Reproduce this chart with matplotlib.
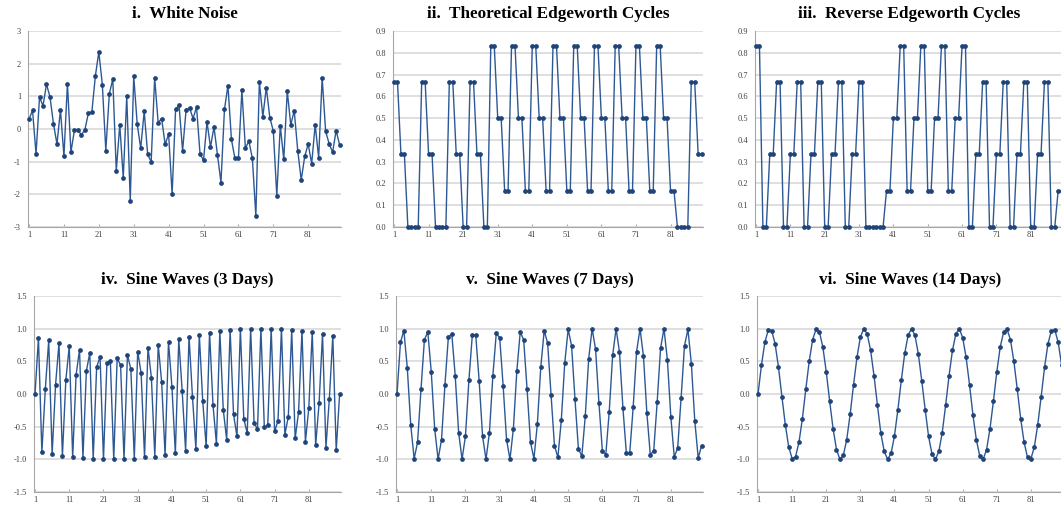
import numpy as np
import matplotlib
matplotlib.use('Agg')
import matplotlib.pyplot as plt
from matplotlib.ticker import FormatStrFormatter

plt.rcParams['font.family'] = ['Liberation Serif', 'DejaVu Serif']
plt.rcParams['axes.unicode_minus'] = False

# Series values (90 days each)
white_noise = [0.30, 0.57, -0.76, 0.97, 0.71, 1.37, 0.98, 0.16, -0.46, 0.58,
               -0.83, 1.39, -0.71, -0.04, -0.03, -0.18, -0.02, 0.48, 0.52, 1.62,
               2.36, 1.36, -0.66, 1.07, 1.53, -1.28, 0.13, -1.50, 1.00, -2.20,
               1.62, 0.15, -0.59, 0.54, -0.78, -1.00, 1.57, 0.19, 0.32, -0.47,
               -0.16, -1.99, 0.61, 0.72, -0.67, 0.58, 0.65, 0.32, 0.67, -0.76,
               -0.96, 0.21, -0.55, 0.06, -0.79, -1.64, 0.60, 1.33, -0.32, -0.90,
               -0.90, 1.18, -0.59, -0.37, -0.90, -2.67, 1.44, 0.38, 1.27, 0.35,
               -0.06, -2.04, 0.10, -0.93, 1.16, 0.13, 0.56, -0.66, -1.56, -0.84,
               -0.46, -1.06, 0.13, -0.88, 1.57, -0.07, -0.45, -0.71, -0.05, -0.48]

edgeworth = [0.667, 0.667, 0.333, 0.333, 0, 0, 0, 0, 0.667, 0.667,
             0.333, 0.333, 0, 0, 0, 0, 0.667, 0.667, 0.333, 0.333,
             0, 0, 0.667, 0.667, 0.333, 0.333, 0, 0, 0.833, 0.833,
             0.5, 0.5, 0.167, 0.167, 0.833, 0.833, 0.5, 0.5, 0.167, 0.167,
             0.833, 0.833, 0.5, 0.5, 0.167, 0.167, 0.833, 0.833, 0.5, 0.5,
             0.167, 0.167, 0.833, 0.833, 0.5, 0.5, 0.167, 0.167, 0.833, 0.833,
             0.5, 0.5, 0.167, 0.167, 0.833, 0.833, 0.5, 0.5, 0.167, 0.167,
             0.833, 0.833, 0.5, 0.5, 0.167, 0.167, 0.833, 0.833, 0.5, 0.5,
             0.167, 0.167, 0, 0, 0, 0, 0.667, 0.667, 0.333, 0.333]

reverse_edgeworth = [0.833, 0.833, 0, 0, 0.333, 0.333, 0.667, 0.667, 0, 0,
                     0.333, 0.333, 0.667, 0.667, 0, 0, 0.333, 0.333, 0.667, 0.667,
                     0, 0, 0.333, 0.333, 0.667, 0.667, 0, 0, 0.333, 0.333,
                     0.667, 0.667, 0, 0, 0, 0, 0, 0, 0.167, 0.167,
                     0.5, 0.5, 0.833, 0.833, 0.167, 0.167, 0.5, 0.5, 0.833, 0.833,
                     0.167, 0.167, 0.5, 0.5, 0.833, 0.833, 0.167, 0.167, 0.5, 0.5,
                     0.833, 0.833, 0, 0, 0.333, 0.333, 0.667, 0.667, 0, 0,
                     0.333, 0.333, 0.667, 0.667, 0, 0, 0.333, 0.333, 0.667, 0.667,
                     0, 0, 0.333, 0.333, 0.667, 0.667, 0, 0, 0.167, 0.167]

sine_3 = [0.00, 0.86, -0.89, 0.07, 0.82, -0.92, 0.14, 0.78, -0.95, 0.21,
          0.73, -0.97, 0.29, 0.68, -0.98, 0.35, 0.63, -0.99, 0.41, 0.57,
          -1.00, 0.47, 0.51, -1.00, 0.55, 0.44, -1.00, 0.60, 0.38, -0.99,
          0.65, 0.32, -0.97, 0.71, 0.25, -0.96, 0.75, 0.18, -0.94, 0.80,
          0.11, -0.91, 0.84, 0.04, -0.87, 0.88, -0.04, -0.84, 0.91, -0.11,
          -0.80, 0.94, -0.17, -0.76, 0.96, -0.24, -0.70, 0.98, -0.31, -0.65,
          0.99, -0.38, -0.60, 1.00, -0.44, -0.54, 1.00, -0.51, -0.48, 1.00,
          -0.57, -0.41, 1.00, -0.62, -0.35, 0.98, -0.68, -0.28, 0.97, -0.73,
          -0.21, 0.95, -0.78, -0.14, 0.92, -0.82, -0.07, 0.89, -0.86, 0.00]

sine_7 = [0.00, 0.79, 0.97, 0.40, -0.47, -0.99, -0.74, 0.07, 0.83, 0.95,
          0.34, -0.53, -1.00, -0.70, 0.14, 0.87, 0.92, 0.28, -0.59, -1.00,
          -0.64, 0.21, 0.90, 0.90, 0.20, -0.65, -1.00, -0.59, 0.28, 0.93,
          0.86, 0.13, -0.70, -1.00, -0.53, 0.35, 0.95, 0.83, 0.07, -0.74,
          -0.99, -0.46, 0.41, 0.97, 0.78, -0.01, -0.79, -0.97, -0.40, 0.47,
          0.99, 0.74, -0.08, -0.84, -0.95, -0.34, 0.54, 1.00, 0.69, -0.14,
          -0.87, -0.93, -0.27, 0.59, 1.00, 0.64, -0.21, -0.90, -0.90, -0.20,
          0.65, 1.00, 0.58, -0.29, -0.93, -0.87, -0.13, 0.70, 1.00, 0.52,
          -0.35, -0.96, -0.83, -0.06, 0.74, 0.99, 0.46, -0.41, -0.98, -0.79]

sine_14 = [0.00, 0.44, 0.79, 0.98, 0.97, 0.77, 0.41, -0.04, -0.47, -0.81,
           -0.99, -0.96, -0.74, -0.38, 0.07, 0.50, 0.83, 0.99, 0.95, 0.72,
           0.34, -0.11, -0.53, -0.85, -1.00, -0.94, -0.70, -0.31, 0.14, 0.56,
           0.87, 1.00, 0.92, 0.67, 0.28, -0.17, -0.60, -0.88, -1.00, -0.91,
           -0.64, -0.24, 0.21, 0.62, 0.90, 1.00, 0.90, 0.61, 0.20, -0.24,
           -0.65, -0.92, -1.00, -0.88, -0.59, -0.17, 0.28, 0.67, 0.92, 1.00,
           0.86, 0.56, 0.14, -0.32, -0.70, -0.95, -1.00, -0.85, -0.53, -0.11,
           0.34, 0.72, 0.95, 0.99, 0.83, 0.50, 0.07, -0.38, -0.74, -0.97,
           -0.99, -0.81, -0.47, -0.04, 0.41, 0.77, 0.97, 0.98, 0.79, 0.44]

titles = ['i.  White Noise', 'ii.  Theoretical Edgeworth Cycles',
          'iii.  Reverse Edgeworth Cycles', 'iv.  Sine Waves (3 Days)',
          'v.  Sine Waves (7 Days)', 'vi.  Sine Waves (14 Days)']
x_ticks = [1, 11, 21, 31, 41, 51, 61, 71, 81]

series = [white_noise, edgeworth, reverse_edgeworth, sine_3, sine_7, sine_14]
y_ticks = [np.arange(-3, 3.01, 1), np.arange(0, 0.91, 0.1), np.arange(0, 0.91, 0.1),
           np.arange(-1.5, 1.51, 0.5), np.arange(-1.5, 1.51, 0.5), np.arange(-1.5, 1.51, 0.5)]
y_fmt = ['%d', '%.1f', '%.1f', '%.1f', '%.1f', '%.1f']

W, H = 1061, 509
# axes rectangles in pixels: left, top, right, bottom
rects = [(28, 31, 341, 227), (393, 31, 703, 227), (755, 31, 1063, 227),
         (34, 296, 341, 492), (396, 296, 703, 492), (757, 296, 1063, 492)]

fig = plt.figure(figsize=(W / 100, H / 100), dpi=100)
line_col = '#2d5894'

for i in range(6):
    l, t, r, b = rects[i]
    ax = fig.add_axes([l / W, 1 - b / H, (r - l) / W, (b - t) / H])
    y = series[i]
    x = np.arange(1, len(y) + 1)
    ax.plot(x, y, color=line_col, lw=1.0, marker='o', ms=2.4,
            mfc='#1f4479', mec='#1f4479', clip_on=False, zorder=3)
    ax.set_xlim(0.7, 90.4)
    yt = y_ticks[i]
    ax.set_ylim(yt[0], yt[-1])
    ax.set_yticks(yt)
    ax.yaxis.set_major_formatter(FormatStrFormatter(y_fmt[i]))
    ax.set_xticks(x_ticks)
    ax.grid(axis='y', color='#d9d9d9', lw=1.2)
    ax.set_axisbelow(True)
    for s in ['top', 'right']:
        ax.spines[s].set_visible(False)
    ax.spines['left'].set_color('#a6a6a6')
    ax.spines['bottom'].set_color('#a6a6a6')
    ax.tick_params(axis='both', labelsize=6, colors='#a6a6a6', labelcolor='#404040',
                   width=0.8)
    ax.tick_params(axis='x', direction='in', length=2, pad=3)
    ax.tick_params(axis='y', length=0, pad=5)
    ax.set_title(titles[i], fontsize=12.3, fontweight='bold', pad=9)

fig.savefig('out.png', dpi=100)
